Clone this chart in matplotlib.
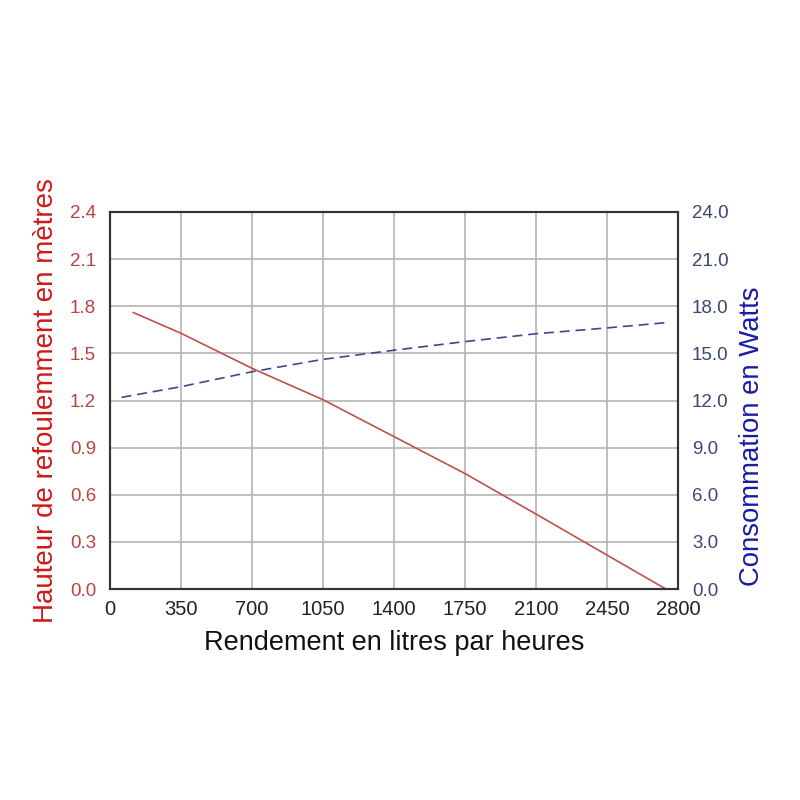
import matplotlib.pyplot as plt
import numpy as np

# pump curve
debit_h = [115, 350, 700, 1050, 1400, 1750, 2100, 2450, 2740]
hauteur = [1.76, 1.628, 1.405, 1.205, 0.97, 0.735, 0.477, 0.216, 0.0]

debit_w = [57, 350, 700, 1050, 1400, 1750, 2100, 2450, 2745]
watts = [12.2, 12.88, 13.83, 14.62, 15.2, 15.75, 16.25, 16.62, 16.96]

xticks = np.arange(0, 2801, 350)
yticks_l = np.arange(0, 2.41, 0.3)
yticks_r = np.arange(0, 24.1, 3.0)

plt.rcParams['font.family'] = ['Liberation Sans', 'DejaVu Sans']

fig = plt.figure(figsize=(8, 8), dpi=100)
ax = fig.add_axes([0.1375, 0.26375, 0.71, 0.47125])
ax2 = ax.twinx()

ax.plot(debit_h, hauteur, color='#c0504d', linewidth=1.2, zorder=3)
ax2.plot(debit_w, watts, color='#3b4a8a', linewidth=1.2, dashes=(6, 3.5))

ax.set_xlim(0, 2800)
ax.set_ylim(0, 2.4)
ax2.set_ylim(0, 24)
ax.set_xticks(xticks)
ax.set_yticks(yticks_l)
ax2.set_yticks(yticks_r)
ax.set_yticklabels(['%.1f' % v for v in yticks_l])
ax2.set_yticklabels(['%.1f' % v for v in yticks_r])

ax.grid(True, color='#b4b4b4', linewidth=1.2)
ax.set_axisbelow(True)

ax.tick_params(axis='x', length=0, pad=8, labelsize=14.5, labelcolor='#222222')
ax.tick_params(axis='y', length=0, pad=10, labelsize=13.5, labelcolor='#b84444')
ax2.tick_params(axis='y', length=0, pad=10, labelsize=13.5, labelcolor='#3a4775')

for a in (ax, ax2):
    for s in a.spines.values():
        s.set_color('#333333')
        s.set_linewidth(1.5)

ax.set_xlabel('Rendement en litres par heures', fontsize=19.5, color='#111111', labelpad=8)
ax.set_ylabel('Hauteur de refoulemment en mètres', fontsize=20, color='#d01818', labelpad=8)
ax2.set_ylabel('Consommation en Watts', fontsize=19.8, color='#1a1aa8')
ax2.yaxis.set_label_coords(1.107, 0.406)

fig.savefig('out.png', dpi=100, facecolor='white')
